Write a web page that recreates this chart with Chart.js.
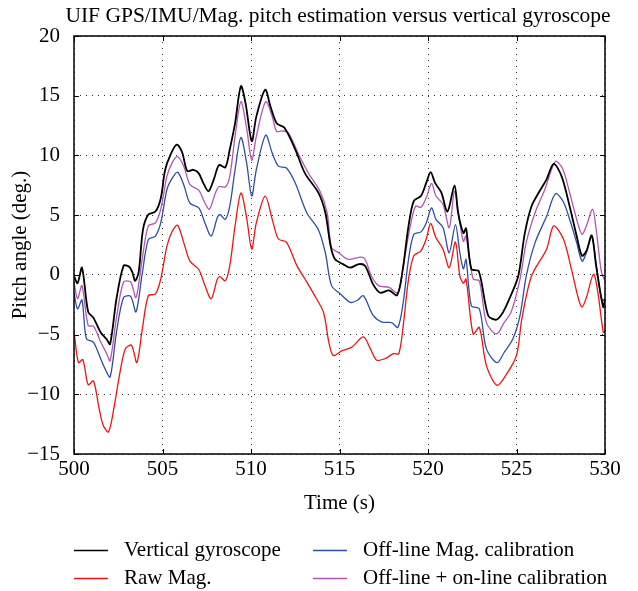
<!DOCTYPE html>
<html>
<head>
<meta charset="utf-8">
<script src="https://cdn.jsdelivr.net/npm/chart.js@4.4.1/dist/chart.umd.min.js"></script>
<style>
  html, body { margin: 0; padding: 0; background: #fff; }
  #wrap { width: 638px; height: 591px; position: relative; }
</style>
</head>
<body>
<div id="wrap"><canvas id="c" width="638" height="591"></canvas></div>
<script>
const chartTitle = "UIF GPS/IMU/Mag. pitch estimation versus vertical gyroscope";
const xTitle = "Time (s)";
const yTitle = "Pitch angle (deg.)";
const seriesNames = ["Vertical gyroscope", "Raw Mag.", "Off-line Mag. calibration", "Off-line + on-line calibration"];
const xTickValues = [500, 505, 510, 515, 520, 525, 530];
const yTickValues = [20, 15, 10, 5, 0, -5, -10, -15];
const yTickLabels = ["20", "15", "10", "5", "0", "\u22125", "\u221210", "\u221215"];

const gyroT = [500, 500.2, 500.45, 500.8, 501.1, 501.5, 501.85, 502.04, 502.4, 502.8, 503.1, 503.3, 503.45, 503.65, 503.9, 504.2, 504.6, 504.9, 505.15, 505.45, 505.8, 506.1, 506.4, 506.75, 507.05, 507.3, 507.6, 507.9, 508.2, 508.55, 508.8, 509.1, 509.43, 509.7, 510.04, 510.3, 510.8, 511.1, 511.45, 511.9, 512.5, 513.05, 513.8, 514.2, 514.5, 514.75, 515.2, 515.6, 516.1, 516.45, 516.9, 517.3, 517.8, 518.25, 518.55, 518.9, 519.2, 519.6, 519.9, 520.15, 520.4, 520.75, 521.1, 521.5, 521.7, 522, 522.15, 522.45, 522.87, 523.4, 523.87, 524.25, 524.6, 525.1, 525.47, 525.85, 526.3, 526.7, 527.1, 527.55, 528, 528.4, 528.7, 528.95, 529.25, 529.5, 529.9, 530];
const gyroV = [-0.1, -0.7, 0.6, -3.1, -3.6, -4.8, -5.4, -5.8, -2.0, 0.75, 0.7, 0.2, -0.5, 0.2, 3.8, 5.05, 5.3, 6.4, 8.8, 10.05, 10.9, 10.3, 8.7, 8.8, 8.5, 7.7, 7.0, 8.0, 9.2, 9.0, 10.5, 12.7, 15.8, 14.3, 11.2, 13.25, 15.5, 14.1, 12.7, 12.3, 10.5, 8.5, 6.9, 5.2, 2.4, 1.3, 0.9, 0.6, 0.9, 0.75, -0.8, -1.5, -1.3, -1.7, 0.2, 4.1, 6.2, 6.6, 7.7, 8.6, 7.7, 6.9, 5.3, 7.5, 5.2, 3.5, 3.9, 0.5, 0.3, -3.4, -3.75, -3.1, -2.0, -0.1, 3.5, 5.75, 7.0, 8.0, 9.3, 8.25, 5.75, 3.25, 1.6, 2.0, 3.3, 0.75, -2.7, -2.0];

const rawT = [500, 500.25, 500.5, 500.8, 501.1, 501.4, 501.65, 501.95, 502.25, 502.6, 502.9, 503.25, 503.55, 503.85, 504.2, 504.6, 504.9, 505.25, 505.55, 505.85, 506.2, 506.55, 507.05, 507.4, 507.75, 508.1, 508.25, 508.55, 508.8, 509.1, 509.43, 509.75, 510.04, 510.3, 510.8, 511.2, 511.55, 512.0, 512.6, 513.05, 513.7, 514.1, 514.4, 514.65, 515.15, 515.7, 516.35, 516.75, 517.1, 517.6, 518.05, 518.35, 518.6, 518.9, 519.2, 519.6, 519.9, 520.15, 520.45, 520.85, 521.2, 521.55, 521.8, 522, 522.15, 522.55, 522.9, 523.3, 523.9, 524.4, 525.0, 525.3, 525.85, 526.7, 527.1, 527.65, 528.1, 528.5, 528.7, 528.95, 529.35, 529.6, 529.9, 530];
const rawV = [-4.7, -7.35, -7.1, -9.2, -8.9, -11.05, -12.6, -13.15, -11.2, -8.15, -6.2, -5.9, -7.35, -4.65, -1.75, -1.6, -0.35, 2.4, 3.65, 4.15, 2.7, 1.15, 0.45, -0.9, -2.0, -0.35, -0.15, -0.5, 0.75, 4.1, 6.85, 4.8, 2.15, 4.35, 6.6, 4.65, 3.0, 2.75, 0.75, -0.35, -2.0, -3.15, -5.65, -6.75, -6.35, -6.05, -5.2, -6.2, -7.15, -7.0, -6.6, -6.6, -4.25, -0.35, 1.6, 2.0, 3.0, 4.3, 3.1, 2.15, 0.6, 2.75, -0.1, -0.7, -0.35, -4.95, -4.4, -7.6, -9.25, -8.4, -6.75, -3.7, -0.1, 2.15, 4.1, 3.0, 0.5, -2.0, -2.7, -1.9, 0.05, -1.5, -4.8, -4.7];

const offT = [500, 500.2, 500.45, 500.7, 501.1, 501.5, 501.75, 502.04, 502.4, 502.8, 503.2, 503.5, 503.85, 504.2, 504.6, 504.9, 505.25, 505.55, 505.85, 506.2, 506.55, 507.05, 507.4, 507.75, 508.1, 508.25, 508.55, 508.8, 509.1, 509.43, 509.75, 510.04, 510.3, 510.83, 511.2, 511.55, 512.0, 512.5, 513.15, 513.8, 514.2, 514.55, 515.05, 515.6, 516.0, 516.35, 516.9, 517.4, 517.95, 518.3, 518.6, 518.9, 519.2, 519.6, 519.9, 520.2, 520.45, 520.85, 521.2, 521.55, 521.8, 522, 522.15, 522.45, 522.9, 523.3, 523.9, 524.3, 524.8, 525.2, 525.55, 526.05, 526.7, 527.2, 527.65, 528, 528.4, 528.7, 528.95, 529.25, 529.5, 529.8, 530];
const offV = [-1.5, -2.85, -2.1, -5.35, -5.65, -7.0, -7.85, -8.55, -4.8, -1.9, -1.8, -3.1, 0.05, 2.95, 3.25, 4.35, 7.15, 8.1, 8.6, 7.55, 6.0, 5.6, 4.35, 3.25, 4.8, 5.05, 4.65, 5.75, 8.8, 11.5, 9.4, 6.6, 8.8, 11.7, 10.2, 9.1, 8.95, 7.7, 5.2, 3.8, 1.85, -0.9, -1.6, -2.3, -2.15, -1.75, -3.4, -3.95, -4.0, -4.4, -2.3, 1.3, 3.4, 3.6, 4.35, 5.6, 4.65, 3.95, 1.85, 4.2, 1.85, 0.5, 1.3, -2.6, -2.85, -6.2, -7.35, -6.5, -5.35, -3.4, -0.1, 2.7, 4.9, 6.8, 6.1, 4.65, 2.7, 1.15, 1.85, 3.3, 0.9, -2.0, -2.15];

const onT = [500, 500.2, 500.45, 500.8, 501.1, 501.5, 501.85, 502.04, 502.4, 502.8, 503.2, 503.5, 503.85, 504.2, 504.6, 504.9, 505.25, 505.55, 505.85, 506.2, 506.55, 507.05, 507.4, 507.65, 508.0, 508.2, 508.55, 508.8, 509.1, 509.43, 509.75, 510.04, 510.3, 510.83, 511.2, 511.45, 511.75, 512.1, 512.7, 513.25, 513.9, 514.3, 514.55, 514.95, 515.5, 516.35, 516.8, 517.2, 517.8, 518.3, 518.6, 519.0, 519.3, 519.6, 519.9, 520.2, 520.45, 520.85, 521.2, 521.5, 521.8, 522, 522.15, 522.55, 522.9, 523.3, 523.87, 524.3, 524.7, 525.2, 525.55, 526.05, 526.6, 527.2, 527.6, 528, 528.4, 528.7, 528.95, 529.3, 529.5, 529.8, 530];
const onV = [-0.6, -2.0, -0.9, -4.25, -4.3, -5.6, -6.6, -7.2, -3.6, -0.6, -0.6, -1.9, 1.3, 4.1, 4.35, 5.5, 8.25, 9.4, 9.9, 9.1, 7.55, 7.1, 6.0, 5.5, 6.9, 7.4, 7.35, 8.25, 11.6, 14.5, 12.3, 9.6, 11.6, 14.5, 13.25, 12.0, 12.05, 11.9, 10.05, 8.5, 7.0, 5.2, 2.3, 1.85, 1.3, 1.45, -0.1, -0.9, -1.05, -1.5, 0.75, 4.1, 5.75, 5.65, 6.45, 7.65, 6.6, 5.9, 3.95, 7.0, 4.35, 2.8, 3.25, -0.35, -0.5, -4.0, -4.95, -4.0, -3.1, -0.35, 2.7, 5.2, 7.15, 9.5, 8.9, 6.9, 4.65, 3.4, 4.1, 5.5, 3.8, 0.2, -0.5];

const seriesColors = ["#000000", "#f01414", "#2e4fa6", "#b455b4"];
const FONT = "'Liberation Serif', 'Times New Roman', serif";

function pts(t, v) { return t.map((x, i) => ({ x: x, y: v[i] })); }

const CL = 74, CR = 605, CT = 36, CB = 454;

const framePlugin = {
  id: 'frame',
  afterDatasetsDraw(chart) {
    const ctx = chart.ctx, a = chart.chartArea;
    const xs = chart.scales.x, ys = chart.scales.y;
    ctx.save();
    ctx.strokeStyle = '#000';
    ctx.lineWidth = 1.5;
    ctx.strokeRect(a.left, a.top, a.right - a.left, a.bottom - a.top);
    ctx.lineWidth = 1;
    ctx.beginPath();
    xTickValues.forEach(v => {
      const p = Math.round(xs.getPixelForValue(v)) + 0.5;
      ctx.moveTo(p, a.bottom); ctx.lineTo(p, a.bottom - 5);
      ctx.moveTo(p, a.top); ctx.lineTo(p, a.top + 5);
    });
    yTickValues.forEach(v => {
      const p = Math.round(ys.getPixelForValue(v)) + 0.5;
      ctx.moveTo(a.left, p); ctx.lineTo(a.left + 5, p);
      ctx.moveTo(a.right, p); ctx.lineTo(a.right - 5, p);
    });
    ctx.stroke();
    ctx.restore();
  },
  afterDraw(chart) {
    const ctx = chart.ctx;
    ctx.save();
    ctx.fillStyle = '#000';
    ctx.textAlign = 'center';
    ctx.textBaseline = 'middle';
    ctx.font = "21.5px " + FONT;
    ctx.fillText(chartTitle, 338, 16);
    ctx.font = "21px " + FONT;
    ctx.fillText(xTitle, (CL + CR) / 2, 503);
    ctx.save();
    ctx.translate(20, (CT + CB) / 2);
    ctx.rotate(-Math.PI / 2);
    ctx.fillText(yTitle, 0, 0);
    ctx.restore();
    // legend (two columns)
    const slots = [[74, 550], [74, 578], [313, 550], [313, 578]];
    ctx.textAlign = 'left';
    chart.data.datasets.forEach((ds, i) => {
      const [lx, ly] = slots[i];
      ctx.strokeStyle = ds.borderColor;
      ctx.lineWidth = 1.5;
      ctx.beginPath();
      ctx.moveTo(lx, ly + 0.5); ctx.lineTo(lx + 34, ly + 0.5);
      ctx.stroke();
      ctx.fillText(ds.label, lx + 50, ly);
    });
    ctx.restore();
  }
};

const datasets = [
  { label: seriesNames[0], data: pts(gyroT, gyroV), borderColor: seriesColors[0], borderWidth: 1.8 },
  { label: seriesNames[1], data: pts(rawT, rawV), borderColor: seriesColors[1], borderWidth: 1.3 },
  { label: seriesNames[2], data: pts(offT, offV), borderColor: seriesColors[2], borderWidth: 1.3 },
  { label: seriesNames[3], data: pts(onT, onV), borderColor: seriesColors[3], borderWidth: 1.3 }
].map(d => Object.assign(d, { pointRadius: 0, tension: 0.3, fill: false, backgroundColor: d.borderColor }));

new Chart(document.getElementById('c'), {
  type: 'line',
  data: { datasets: datasets },
  options: {
    responsive: false,
    animation: false,
    events: [],
    layout: { padding: { left: 0, right: 638 - CR, top: CT, bottom: 591 - CB - 30 } },
    plugins: { legend: { display: false }, title: { display: false }, tooltip: { enabled: false } },
    scales: {
      x: {
        type: 'linear', min: 500, max: 530,
        afterFit: s => { s.height = 30; },
        afterBuildTicks: s => { s.ticks = xTickValues.map(v => ({ value: v })); },
        ticks: { color: '#000', font: { family: FONT, size: 21 }, padding: 3, maxRotation: 0,
                 callback: v => String(v) },
        grid: { color: '#333', lineWidth: 1, drawTicks: false },
        border: { display: false, dash: [1, 5] }
      },
      y: {
        type: 'linear', min: -15, max: 20,
        afterFit: s => { s.width = CL; },
        afterBuildTicks: s => { s.ticks = yTickValues.map(v => ({ value: v })); },
        ticks: { color: '#000', font: { family: FONT, size: 21 }, padding: 14,
                 callback: v => yTickLabels[yTickValues.indexOf(v)] },
        grid: { color: '#333', lineWidth: 1, drawTicks: false },
        border: { display: false, dash: [1, 5] }
      }
    }
  },
  plugins: [framePlugin]
});
</script>
</body>
</html>
